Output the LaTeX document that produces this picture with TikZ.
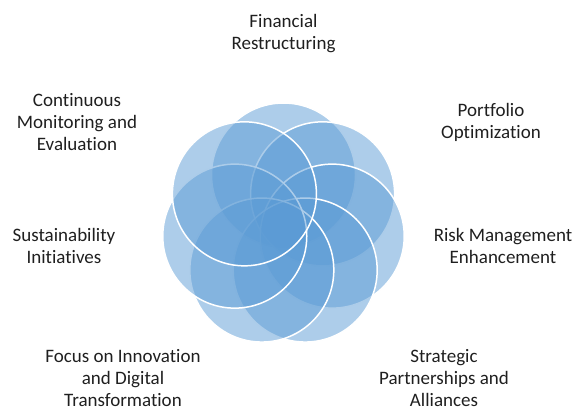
\documentclass[tikz,border=0pt]{standalone}
\usepackage{fontspec}
\setmainfont{Carlito}[Ligatures=NoCommon]
\usepackage{tikz}
\usetikzlibrary{positioning}
\definecolor{office blue}{RGB}{91,155,213}
\colorlet{petal colour}{office blue}
\colorlet{text colour}{black!88}
\tikzset{
    % Define a set of styles
    % First the fills
    petal fill/.style={fill=petal colour, fill opacity=0.5},
%
    % The overlapping circles of the ring
    petal/.style={
        draw=white, circle, line width=1.5pt, petal fill,
        inner sep=0, minimum size=144pt},
%
    % Text placed round the ring
    topic/.style={
        align=center, text=text colour, inner sep=0,
        font=\fontsize{19}{22}\selectfont},
}

\begin{document}
\begin{tikzpicture}[
    x=1pt, y=1pt]

    \useasboundingbox (0,0) rectangle (577,408);
    \coordinate (centre) at (283.5,183);

    \path
        (centre)
        +(90:50) node [petal] (financial petal) {}
        +(38.57:50) node [petal] (portfolio petal) {}
        +(-12.86:50) node [petal] (risk petal) {}
        +(-64.29:50) node [petal] (strategic petal) {}
        +(-115.71:50) node [petal] (focus petal) {}
        +(-167.14:50) node [petal] (sustainability petal) {}
        +(141.43:50) node [petal] (continuous petal) {};

    \path
        (283.5,374) node [topic] (financial) {Financial\\Restructuring}
        (491,286) node [topic] (portfolio) {Portfolio\\Optimization}
        (503,162) node [topic] (risk) {Risk Management\\Enhancement}
        (444,30) node [topic] (strategic) {Strategic\\Partnerships and\\Alliances}
        (123,30) node [topic] (focus) {Focus on Innovation\\and Digital\\Transformation}
        (64,162) node [topic] (sustainability) {Sustainability\\Initiatives}
        (77,286) node [topic] (continuous) {Continuous\\Monitoring and\\Evaluation};
\end{tikzpicture}
\end{document}
